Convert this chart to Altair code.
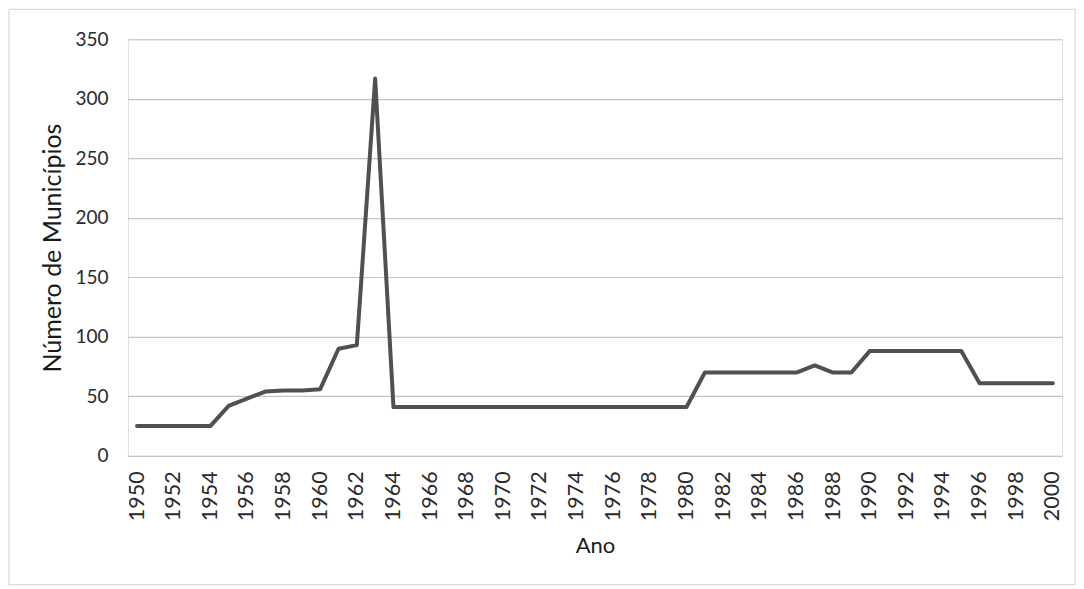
import altair as alt
import pandas as pd

years = list(range(1950, 2001))
municipios = [25, 25, 25, 25, 25, 42, 48, 54, 55, 55, 56, 90, 93, 317,
              41, 41, 41, 41, 41, 41, 41, 41, 41, 41, 41, 41, 41, 41, 41, 41, 41,
              70, 70, 70, 70, 70, 70, 76, 70, 70,
              88, 88, 88, 88, 88, 88,
              61, 61, 61, 61, 61]
even_years = [y for y in years if y % 2 == 0]
y_ticks = [0, 50, 100, 150, 200, 250, 300, 350]

df = pd.DataFrame({"Ano": years, "Municipios": municipios})

FONT = "Lato"

line = alt.Chart(df).mark_line(color="#505050", strokeWidth=4, strokeCap="round",
                               strokeJoin="round").encode(
    x=alt.X("Ano:O", scale=alt.Scale(type="point", padding=0.5),
            axis=alt.Axis(values=even_years, labelAngle=270, labelFontSize=21.5,
                          labelFont=FONT, labelColor="#2a2a2a", labelPadding=15,
                          ticks=False, domain=False, grid=False,
                          title="Ano", titleFont=FONT, titleFontSize=22,
                          titleFontWeight="normal", titleColor="#1a1a1a",
                          titlePadding=15)),
    y=alt.Y("Municipios:Q", scale=alt.Scale(domain=[0, 350], nice=False),
            axis=alt.Axis(values=y_ticks, labelFontSize=19, labelFont=FONT,
                          labelColor="#2a2a2a", labelPadding=20, ticks=False,
                          domain=False, gridColor="#c4c4c4", gridWidth=1.2,
                          title="Número de Municípios", titleFont=FONT,
                          titleFontSize=25, titleFontWeight="normal",
                          titleColor="#1a1a1a", titlePadding=9)),
)

border = alt.Chart(alt.Data(values=[{"k": 1}])).mark_rect(
    fill="transparent", stroke="#d0d0d0", strokeWidth=1).encode(
    x=alt.value(-119), x2=alt.value(948), y=alt.value(-30), y2=alt.value(546))

chart = alt.layer(border, line).properties(
    width=935, height=417, padding=0
).configure_view(stroke=None).configure(background="white")

chart.save("out.html", embed_options={"renderer": "svg", "actions": False})
